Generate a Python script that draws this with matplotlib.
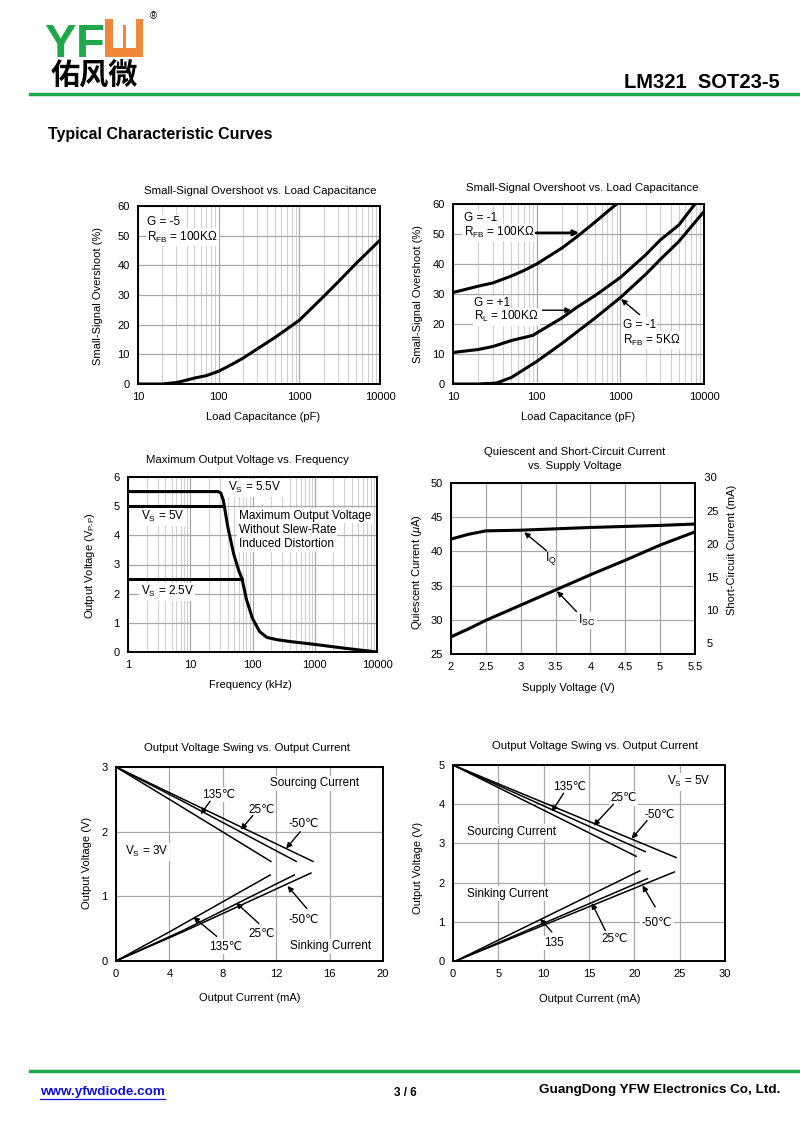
import numpy as np
import matplotlib
matplotlib.use('Agg')
import matplotlib.pyplot as plt
from matplotlib.patches import Rectangle
from matplotlib.lines import Line2D
from matplotlib.ticker import LogLocator, NullFormatter

plt.rcParams['font.family'] = ['Liberation Sans', 'DejaVu Sans']
plt.rcParams['mathtext.fontset'] = 'custom'
plt.rcParams['mathtext.rm'] = 'Liberation Sans'
plt.rcParams['mathtext.it'] = 'Liberation Sans:italic'

# ---------------- data ----------------
# chart 1 : overshoot vs load capacitance, G=-5
c1_cap = [10, 20, 30, 40, 50, 70, 100, 150, 200, 300, 500, 700, 1000, 2000, 3000, 5000, 10000]
c1_os = [0, 0, 0.5, 1.3, 2.0, 2.8, 4.3, 6.8, 8.7, 11.8, 15.7, 18.5, 21.5, 29.5, 34.3, 40.5, 48.5]

# chart 2 : overshoot vs load capacitance, three configurations
c2_cap_a = [10, 20, 30, 50, 70, 100, 200, 300, 500, 900]
c2_os_a = [30.5, 32.6, 33.7, 36.0, 37.8, 40.0, 45.3, 49.0, 54.0, 60.0]
c2_cap_b = [10, 20, 30, 50, 90, 100, 200, 300, 500, 1000, 2000, 3000, 5000, 7800]
c2_os_b = [10.5, 11.5, 12.5, 14.5, 16.2, 17.0, 22.0, 25.5, 29.5, 35.5, 43.0, 48.0, 53.0, 60.0]
c2_cap_c = [10, 20, 33, 50, 100, 200, 500, 1000, 2000, 3000, 5000, 10000]
c2_os_c = [0, 0, 0.3, 2.2, 7.5, 13.5, 22.0, 28.8, 36.5, 41.5, 47.5, 57.5]

# chart 3 : max output voltage vs frequency
c3_freq = [1, 10, 28, 31, 34, 40, 50, 60, 68, 80, 100, 130, 170, 250, 400, 1000, 3000, 10000]
c3_vout = [5.5, 5.5, 5.5, 5.45, 5.2, 4.3, 3.35, 2.8, 2.5, 1.8, 1.15, 0.7, 0.5, 0.42, 0.36, 0.26, 0.13, 0.0]
c3_freq_5v = [1, 34]
c3_vout_5v = [5.0, 5.0]
c3_freq_25v = [1, 67]
c3_vout_25v = [2.5, 2.5]

# chart 4 : quiescent and short-circuit current vs supply voltage
c4_vs = [2, 2.25, 2.5, 3, 3.5, 4, 4.5, 5, 5.5]
c4_iq = [41.8, 42.5, 43.0, 43.1, 43.3, 43.5, 43.65, 43.8, 44.0]
c4_isc = [6.0, 7.2, 8.5, 10.8, 13.1, 15.4, 17.6, 19.9, 21.9]

# chart 5 : output swing, Vs = 3V
c5_src_135_i = [0, 4, 11.6];   c5_src_135_v = [3.0, 2.5, 1.54]
c5_src_25_i = [0, 5, 13.5];    c5_src_25_v = [3.0, 2.47, 1.54]
c5_src_m50_i = [0, 14.75];     c5_src_m50_v = [3.0, 1.54]
c5_snk_135_i = [0, 4, 11.55];  c5_snk_135_v = [0, 0.45, 1.33]
c5_snk_25_i = [0, 5, 13.35];   c5_snk_25_v = [0, 0.47, 1.33]
c5_snk_m50_i = [0, 5, 14.6];   c5_snk_m50_v = [0, 0.45, 1.36]

# chart 6 : output swing, Vs = 5V
c6_src_135_i = [0, 20.2];   c6_src_135_v = [5.0, 2.67]
c6_src_25_i = [0, 21.2];    c6_src_25_v = [5.0, 2.79]
c6_src_m50_i = [0, 24.6];   c6_src_m50_v = [5.0, 2.64]
c6_snk_135_i = [0.3, 20.6]; c6_snk_135_v = [0, 2.30]
c6_snk_25_i = [0.3, 21.45]; c6_snk_25_v = [0, 2.10]
c6_snk_m50_i = [0.3, 24.4]; c6_snk_m50_v = [0, 2.27]

# ---------------- helpers ----------------
W, H = 800, 1130
fig = plt.figure(figsize=(8, 11.3), dpi=100)
fig.patch.set_facecolor('white')

def box(l, t, r, b):
    return [l / W, 1 - b / H, (r - l) / W, (b - t) / H]

def fx(x):
    return x / W

def fy(y):
    return 1 - y / H

GRID_MAJ = '#a8a8a8'
GRID_MIN = '#d0d0d0'
FS = 8
TFS = 8.2

def style(ax):
    for s in ax.spines.values():
        s.set_linewidth(1.4)
        s.set_color('black')
    ax.tick_params(which='both', length=0, labelsize=FS, pad=6)
    ax.set_axisbelow(True)

def logx(ax, lo, hi):
    ax.set_xscale('log')
    ax.set_xlim(lo, hi)
    ax.xaxis.set_minor_locator(LogLocator(base=10, subs=range(2, 10)))
    ax.xaxis.set_minor_formatter(NullFormatter())
    ticks = [10 ** k for k in range(int(np.log10(lo)), int(np.log10(hi)) + 1)]
    ax.set_xticks(ticks)
    ax.set_xticklabels([str(t) for t in ticks])
    ax.grid(which='major', axis='x', color=GRID_MAJ, lw=0.9)
    ax.grid(which='minor', axis='x', color=GRID_MIN, lw=0.8)
    ax.grid(which='major', axis='y', color=GRID_MAJ, lw=0.9)

def arrow(ax, frm, to, lw=1.0, ms=8):
    ax.annotate('', xy=to, xytext=frm,
                arrowprops=dict(arrowstyle='-|>', color='black', lw=lw,
                                mutation_scale=ms, shrinkA=0, shrinkB=0))

WB = dict(facecolor='white', edgecolor='none', pad=1.0)

def lbl(ax, x, y, s, ha='left', fs=8.5):
    ax.text(x, y, s, ha=ha, va='center', fontsize=fs, bbox=WB, zorder=3)

def ftext(x, y, s, **kw):
    fig.text(fx(x), fy(y), s, **kw)

def frect(l, t, r, b, color):
    fig.patches.append(Rectangle((fx(l), fy(b)), (r - l) / W, (b - t) / H,
                                 transform=fig.transFigure, facecolor=color,
                                 edgecolor='none', figure=fig))

# ---------------- header / footer ----------------
GREEN = '#1fa84a'
ORANGE = '#f0883a'
ftext(44, 57, 'Y', fontsize=34, fontweight='bold', color=GREEN, ha='left', va='baseline')
ftext(76, 57, 'F', fontsize=34, fontweight='bold', color=GREEN, ha='left', va='baseline')
frect(105, 19, 143, 57, ORANGE)
frect(113, 19, 136, 48, 'white')
frect(123, 25, 126, 48, ORANGE)
ftext(153, 16, '®', fontsize=7, ha='center', va='center')
ftext(51, 76, '佑风微', fontsize=21, fontweight='bold',
      family=['Noto Sans CJK SC', 'DejaVu Sans'], ha='left', va='center')
fig.add_artist(Line2D([fx(30), fx(800)], [fy(94), fy(94)], color=GREEN, lw=2.5,
                      transform=fig.transFigure))
ftext(780, 82, 'LM321  SOT23-5', fontsize=14.5, fontweight='bold', ha='right', va='center')
ftext(48, 135, 'Typical Characteristic Curves', fontsize=11.5, fontweight='bold',
      ha='left', va='center')

fig.add_artist(Line2D([fx(30), fx(800)], [fy(1071), fy(1071)], color=GREEN, lw=2.5,
                      transform=fig.transFigure))
ftext(40, 1092, 'www.yfwdiode.com', fontsize=9.7, fontweight='bold',
      color='#1010e0', ha='left', va='center')
fig.add_artist(Line2D([fx(40), fx(165)], [fy(1099), fy(1099)], color='#1010e0', lw=0.9,
                      transform=fig.transFigure))
ftext(405, 1093, '3 / 6', fontsize=8.5, fontweight='bold', ha='center', va='center')
ftext(780, 1090, 'GuangDong YFW Electronics Co, Ltd.', fontsize=9.7, fontweight='bold',
      ha='right', va='center')

# ---------------- chart 1 ----------------
ax1 = fig.add_axes(box(138, 206, 380, 384))
style(ax1)
logx(ax1, 10, 10000)
ax1.set_ylim(0, 60)
ax1.set_yticks(range(0, 61, 10))
ax1.plot(c1_cap, c1_os, color='black', lw=2.2, solid_capstyle='round')
lbl(ax1, 13, 54.5, 'G = -5')
lbl(ax1, 13, 49.5, r'R$_{\mathregular{FB}}$ = 100K$\Omega$')
ftext(260, 191, 'Small-Signal Overshoot vs. Load Capacitance', fontsize=TFS, ha='center', va='center')
ftext(98, 296, 'Small-Signal Overshoot (%)', fontsize=FS, rotation=90, ha='center', va='center')
ftext(263, 417, 'Load Capacitance (pF)', fontsize=FS, ha='center', va='center')

# ---------------- chart 2 ----------------
ax2 = fig.add_axes(box(453, 204, 704, 384))
style(ax2)
logx(ax2, 10, 10000)
ax2.set_ylim(0, 60)
ax2.set_yticks(range(0, 61, 10))
for xs, ys in [(c2_cap_a, c2_os_a), (c2_cap_b, c2_os_b), (c2_cap_c, c2_os_c)]:
    ax2.plot(xs, ys, color='black', lw=2.2, solid_capstyle='round')
lbl(ax2, 13.5, 55.3, 'G = -1')
lbl(ax2, 13.5, 50.4, r'R$_{\mathregular{FB}}$ = 100K$\Omega$')
arrow(ax2, (98, 50.4), (320, 50.4), lw=1.8)
lbl(ax2, 17.8, 27.0, 'G = +1')
lbl(ax2, 17.8, 22.4, r'R$_{\mathregular{L}}$ = 100K$\Omega$')
arrow(ax2, (117, 24.6), (257, 24.6))
lbl(ax2, 1070, 19.8, 'G = -1')
lbl(ax2, 1070, 14.6, r'R$_{\mathregular{FB}}$ = 5K$\Omega$')
arrow(ax2, (1700, 23.1), (1020, 28.3))
ftext(582, 188, 'Small-Signal Overshoot vs. Load Capacitance', fontsize=TFS, ha='center', va='center')
ftext(418, 294, 'Small-Signal Overshoot (%)', fontsize=FS, rotation=90, ha='center', va='center')
ftext(578, 417, 'Load Capacitance (pF)', fontsize=FS, ha='center', va='center')

# ---------------- chart 3 ----------------
ax3 = fig.add_axes(box(128, 477, 377, 652))
style(ax3)
logx(ax3, 1, 10000)
ax3.set_ylim(0, 6)
ax3.set_yticks(range(0, 7))
ax3.plot(c3_freq, c3_vout, color='black', lw=2.2, solid_capstyle='round')
ax3.plot(c3_freq_5v, c3_vout_5v, color='black', lw=2.2)
ax3.plot(c3_freq_25v, c3_vout_25v, color='black', lw=2.2)
lbl(ax3, 41, 5.63, r'V$_{\mathregular{S}}$ = 5.5V')
lbl(ax3, 1.6, 4.64, r'V$_{\mathregular{S}}$ = 5V')
lbl(ax3, 60, 4.67, 'Maximum Output Voltage')
lbl(ax3, 60, 4.18, 'Without Slew-Rate')
lbl(ax3, 60, 3.69, 'Induced Distortion')
lbl(ax3, 1.6, 2.07, r'V$_{\mathregular{S}}$ = 2.5V')
ftext(247, 460, 'Maximum Output Voltage vs. Frequency', fontsize=TFS, ha='center', va='center')
ftext(90, 566, r'Output Voltage (V$_{\mathregular{P\text{-}P}}$)', fontsize=FS, rotation=90, ha='center', va='center')
ftext(250, 685, 'Frequency (kHz)', fontsize=FS, ha='center', va='center')

# ---------------- chart 4 ----------------
ax4 = fig.add_axes(box(451, 483, 695, 654))
style(ax4)
ax4.set_xlim(2, 5.5)
ax4.set_xticks([2, 2.5, 3, 3.5, 4, 4.5, 5, 5.5])
ax4.set_xticklabels(['2', '2.5', '3', '3.5', '4', '4.5', '5', '5.5'])
ax4.set_ylim(25, 50)
ax4.set_yticks(range(25, 51, 5))
ax4.grid(True, color=GRID_MAJ, lw=0.9)
ax4.plot(c4_vs, c4_iq, color='black', lw=2.2, solid_capstyle='round')
ax4b = ax4.twinx()
ax4b.set_ylim(3.4, 29.3)
ax4b.set_yticks([5, 10, 15, 20, 25])
ax4b.tick_params(which='both', length=0, labelsize=FS, pad=8)
for s in ax4b.spines.values():
    s.set_linewidth(1.4)
ax4b.text(1.0, 30, '   30', transform=ax4b.get_yaxis_transform(), fontsize=FS,
          ha='left', va='center', clip_on=False)
ax4b.plot(c4_vs, c4_isc, color='black', lw=2.2, solid_capstyle='round')
ax4.text(3.44, 38.9, r'I$_{\mathregular{Q}}$', fontsize=9, ha='center', va='center')
arrow(ax4, (3.37, 40.1), (3.05, 42.8))
ax4.text(3.95, 29.9, r'I$_{\mathregular{SC}}$', fontsize=9, ha='center', va='center',
         bbox=WB)
arrow(ax4, (3.80, 31.2), (3.52, 34.2))
ftext(575, 452, 'Quiescent and Short-Circuit Current', fontsize=TFS, ha='center', va='center')
ftext(575, 466, 'vs. Supply Voltage', fontsize=TFS, ha='center', va='center')
ftext(417, 572, r'Quiescent Current ($\mu$A)', fontsize=FS, rotation=90, ha='center', va='center')
ftext(732, 550, 'Short-Circuit Current (mA)', fontsize=FS, rotation=90, ha='center', va='center')
ftext(568, 688, 'Supply Voltage (V)', fontsize=FS, ha='center', va='center')

# ---------------- chart 5 ----------------
ax5 = fig.add_axes(box(116, 767, 383, 961))
style(ax5)
ax5.set_xlim(0, 20)
ax5.set_xticks([0, 4, 8, 12, 16, 20])
ax5.set_ylim(0, 3)
ax5.set_yticks([0, 1, 2, 3])
ax5.grid(True, color=GRID_MAJ, lw=0.9)
for xs, ys in [(c5_src_135_i, c5_src_135_v), (c5_src_25_i, c5_src_25_v),
               (c5_src_m50_i, c5_src_m50_v), (c5_snk_135_i, c5_snk_135_v),
               (c5_snk_25_i, c5_snk_25_v), (c5_snk_m50_i, c5_snk_m50_v)]:
    ax5.plot(xs, ys, color='black', lw=1.1)
lbl(ax5, 11.55, 2.75, 'Sourcing Current')
lbl(ax5, 7.7, 2.57, '135℃', ha='center')
arrow(ax5, (7.05, 2.47), (6.35, 2.27))
lbl(ax5, 10.9, 2.34, '25℃', ha='center')
arrow(ax5, (10.25, 2.25), (9.35, 2.03))
lbl(ax5, 14.05, 2.12, '-50℃', ha='center')
arrow(ax5, (13.8, 2.0), (12.75, 1.74))
lbl(ax5, 0.67, 1.69, r'V$_{\mathregular{S}}$ = 3V')
lbl(ax5, 14.05, 0.64, '-50℃', ha='center')
arrow(ax5, (14.3, 0.81), (12.85, 1.16))
lbl(ax5, 10.9, 0.42, '25℃', ha='center')
arrow(ax5, (10.7, 0.58), (9.0, 0.9))
lbl(ax5, 8.2, 0.22, '135℃', ha='center')
arrow(ax5, (7.55, 0.38), (5.8, 0.68))
lbl(ax5, 13.05, 0.23, 'Sinking Current')
ftext(247, 748, 'Output Voltage Swing vs. Output Current', fontsize=TFS, ha='center', va='center')
ftext(87, 863, 'Output Voltage (V)', fontsize=FS, rotation=90, ha='center', va='center')
ftext(250, 998, 'Output Current (mA)', fontsize=FS, ha='center', va='center')

# ---------------- chart 6 ----------------
ax6 = fig.add_axes(box(453, 765, 725, 961))
style(ax6)
ax6.set_xlim(0, 30)
ax6.set_xticks([0, 5, 10, 15, 20, 25, 30])
ax6.set_ylim(0, 5)
ax6.set_yticks([0, 1, 2, 3, 4, 5])
ax6.grid(True, color=GRID_MAJ, lw=0.9)
for xs, ys in [(c6_src_135_i, c6_src_135_v), (c6_src_25_i, c6_src_25_v),
               (c6_src_m50_i, c6_src_m50_v), (c6_snk_135_i, c6_snk_135_v),
               (c6_snk_25_i, c6_snk_25_v), (c6_snk_m50_i, c6_snk_m50_v)]:
    ax6.plot(xs, ys, color='black', lw=1.1)
lbl(ax6, 23.6, 4.57, r'V$_{\mathregular{S}}$ = 5V')
lbl(ax6, 12.85, 4.45, '135℃', ha='center')
arrow(ax6, (12.2, 4.28), (10.9, 3.81))
lbl(ax6, 18.8, 4.15, '25℃', ha='center')
arrow(ax6, (17.7, 4.0), (15.5, 3.45))
lbl(ax6, 22.8, 3.72, '-50℃', ha='center')
arrow(ax6, (21.4, 3.58), (19.7, 3.12))
lbl(ax6, 1.54, 3.30, 'Sourcing Current')
lbl(ax6, 1.54, 1.72, 'Sinking Current')
lbl(ax6, 22.5, 0.97, '-50℃', ha='center')
arrow(ax6, (22.3, 1.38), (20.9, 1.93))
lbl(ax6, 17.8, 0.55, '25℃', ha='center')
arrow(ax6, (16.8, 0.78), (15.3, 1.48))
lbl(ax6, 11.1, 0.46, '135', ha='center')
arrow(ax6, (10.9, 0.74), (9.6, 1.08))
ftext(595, 746, 'Output Voltage Swing vs. Output Current', fontsize=TFS, ha='center', va='center')
ftext(418, 868, 'Output Voltage (V)', fontsize=FS, rotation=90, ha='center', va='center')
ftext(590, 999, 'Output Current (mA)', fontsize=FS, ha='center', va='center')

fig.savefig('out.png', dpi=100, facecolor='white')
